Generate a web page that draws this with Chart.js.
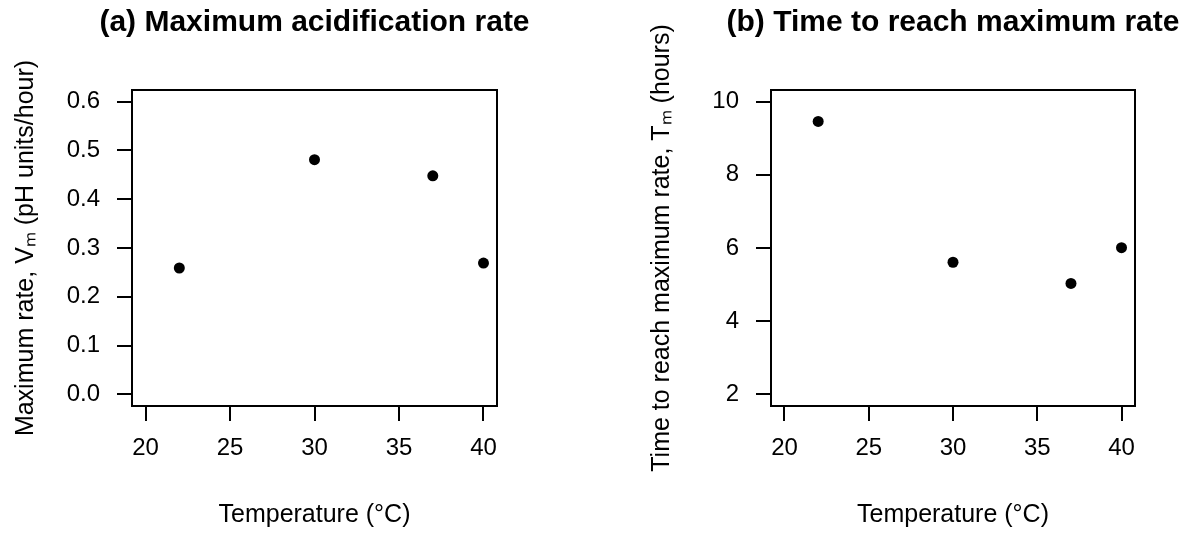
<!DOCTYPE html>
<html>
<head>
<meta charset="utf-8">
<script src="https://cdn.jsdelivr.net/npm/chart.js@4.4.1/dist/chart.umd.min.js"></script>
<style>
  html, body { margin: 0; padding: 0; background: #ffffff; }
  #wrap { position: relative; width: 1193px; height: 533px; overflow: hidden; }
  canvas { position: absolute; top: 0; }
  #cA { left: 0; }
  #cB { left: 639px; }
</style>
</head>
<body>
<div id="wrap">
  <canvas id="cA" width="629" height="533"></canvas>
  <canvas id="cB" width="628" height="533"></canvas>
</div>
<script>
// ---- data ----
const temperatures = [22, 30, 37, 40];
const maxRate = [0.259, 0.481, 0.448, 0.269];      // pH units/hour
const timeToMax = [9.46, 5.61, 5.03, 6.01];        // hours

// ---- tick labels ----
const xTicks = [20, 25, 30, 35, 40];
const yTicksA = [0.0, 0.1, 0.2, 0.3, 0.4, 0.5, 0.6];
const yTicksB = [2, 4, 6, 8, 10];

// ---- text ----
const titleA = "(a) Maximum acidification rate";
const titleB = "(b) Time to reach maximum rate";
const xTitle = "Temperature (\u00B0C)";
const yTitleA = "Maximum rate, V\u2098 (pH units/hour)";
const yTitleB = "Time to reach maximum rate, T\u2098 (hours)";

Chart.defaults.font.family = "Arial, 'Liberation Sans', sans-serif";
Chart.defaults.color = "#000000";

const boxPlugin = {
  id: 'plotBox',
  afterDraw(chart) {
    const a = chart.chartArea;
    const ctx = chart.ctx;
    ctx.save();
    ctx.strokeStyle = '#000000';
    ctx.lineWidth = 2;
    ctx.strokeRect(a.left, a.top, a.right - a.left, a.bottom - a.top);
    ctx.restore();
  }
};

function makeChart(canvasId, xs, ys, yTicks, yMin, yMax, yDecimals, title, yTitle, yTitlePad) {
  const pts = xs.map((x, i) => ({ x: x, y: ys[i] }));
  return new Chart(document.getElementById(canvasId), {
    type: 'scatter',
    data: {
      datasets: [{
        data: pts,
        backgroundColor: '#000000',
        borderColor: '#000000',
        borderWidth: 0,
        pointRadius: 5.5,
        pointHoverRadius: 5.5
      }]
    },
    plugins: [boxPlugin],
    options: {
      responsive: false,
      animation: false,
      devicePixelRatio: 1,
      layout: { padding: 0 },
      plugins: {
        legend: { display: false },
        tooltip: { enabled: false },
        title: {
          display: true,
          text: title,
          fullSize: true,
          color: '#000000',
          font: { family: "Arial, 'Liberation Sans', sans-serif", size: 30, weight: 'bold', lineHeight: 1 },
          padding: { top: 8, bottom: 52 }
        }
      },
      scales: {
        x: {
          type: 'linear',
          position: 'bottom',
          min: 19.2,
          max: 40.8,
          afterFit(scale) { scale.height = 127; },
          afterBuildTicks(scale) { scale.ticks = xTicks.map(v => ({ value: v })); },
          ticks: {
            color: '#000000',
            font: { size: 24 },
            padding: 13,
            maxRotation: 0,
            autoSkip: false,
            callback: (v) => String(v)
          },
          grid: {
            drawOnChartArea: false,
            drawTicks: true,
            tickLength: 15,
            color: '#000000',
            lineWidth: 2
          },
          border: { display: false },
          title: {
            display: true,
            text: xTitle,
            color: '#000000',
            font: { size: 25, lineHeight: 1 },
            padding: { top: 0, bottom: 5 }
          }
        },
        y: {
          type: 'linear',
          position: 'left',
          min: yMin,
          max: yMax,
          afterFit(scale) { scale.width = 132; },
          afterBuildTicks(scale) { scale.ticks = yTicks.map(v => ({ value: v })); },
          ticks: {
            color: '#000000',
            font: { size: 24 },
            padding: 17,
            autoSkip: false,
            callback: (v) => Number(v).toFixed(yDecimals)
          },
          grid: {
            drawOnChartArea: false,
            drawTicks: true,
            tickLength: 15,
            color: '#000000',
            lineWidth: 2
          },
          border: { display: false },
          title: {
            display: true,
            text: yTitle,
            color: '#000000',
            font: { size: 25, lineHeight: 1 },
            padding: { top: yTitlePad, bottom: 0 }
          }
        },
        yRightSpacer: {
          type: 'linear',
          position: 'right',
          min: yMin,
          max: yMax,
          display: true,
          afterFit(scale) { scale.width = 132; },
          ticks: { display: false },
          grid: { display: false, drawTicks: false, drawOnChartArea: false },
          border: { display: false },
          title: { display: false }
        }
      }
    }
  });
}

makeChart('cA', temperatures, maxRate, yTicksA, -0.024, 0.624, 1, titleA, yTitleA, 13.5);
makeChart('cB', temperatures, timeToMax, yTicksB, 1.68, 10.32, 0, titleB, yTitleB, 10.5);
</script>
</body>
</html>
